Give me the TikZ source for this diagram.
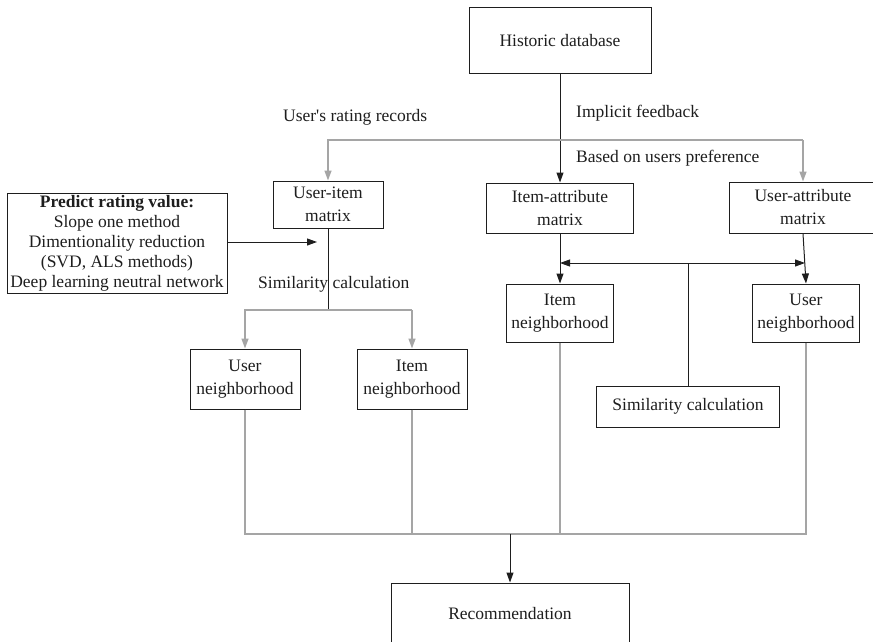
\documentclass[tikz,border=0pt]{standalone}
\usepackage{fontspec}
\setmainfont{Liberation Serif}
\usetikzlibrary{arrows.meta, positioning, calc}
\definecolor{linegray}{RGB}{165,165,165}
\definecolor{inkdark}{RGB}{30,30,30}

\tikzset{
  box/.style={draw=inkdark, line width=1pt, align=center, inner sep=2pt,
    font=\fontsize{17.5}{23}\selectfont, text=inkdark},
  lbl/.style={font=\fontsize{17.5}{21}\selectfont, text=inkdark, inner sep=0pt, anchor=west},
  blk/.style={draw=inkdark, line width=1pt},
  gry/.style={draw=linegray, line width=1.5pt},
  tip/.style={-{Triangle[length=10pt,width=7pt]}},
}

\begin{document}
\begin{tikzpicture}[x=1pt, y=-1pt]
    \useasboundingbox (0,0) rectangle (873,642);

    % Boxes
    \node[box, minimum width=182pt, minimum height=66pt] (db) at (560,41) {Historic database};
    \node[box, minimum width=110pt, minimum height=47pt] (uim) at (328,204.5) {User-item\\matrix};
    \node[box, minimum width=147pt, minimum height=50pt] (iam) at (560,208) {Item-attribute\\matrix};
    \node[box, minimum width=148pt, minimum height=51pt] (uam) at (803,207.5) {User-attribute\\matrix};
    \node[box, minimum width=220pt, minimum height=100pt, font=\fontsize{17.5}{20}\selectfont] (pred) at (117,243)
        {\textbf{Predict rating value:}\\Slope one method\\Dimentionality reduction\\(SVD, ALS methods)\\Deep learning neutral network};
    \node[box, minimum width=110pt, minimum height=60pt] (un1) at (245,379) {User\\neighborhood};
    \node[box, minimum width=110pt, minimum height=60pt] (in1) at (412,379) {Item\\neighborhood};
    \node[box, minimum width=107pt, minimum height=58pt] (in2) at (560,313) {Item\\neighborhood};
    \node[box, minimum width=107pt, minimum height=58pt] (un2) at (806,313) {User\\neighborhood};
    \node[box, minimum width=183pt, minimum height=41pt] (sim) at (688,406.5) {Similarity calculation};
    \node[box, minimum width=238pt, minimum height=62pt] (rec) at (510,614) {Recommendation};

    % Labels
    \node[lbl] (lrec) at (283,117) {User\textquotesingle s rating records};
    \node[lbl] (limp) at (576,113) {Implicit feedback};
    \node[lbl] (lpref) at (576,158) {Based on users preference};

    % Historic database to the matrices
    \draw[blk, tip] (db.south) -- (iam.north);
    \coordinate (gl) at (328,140);
    \coordinate (gr) at (803,140);
    \draw[gry, tip] (gr) -- (uam.north);
    \draw[gry, tip] (gr) -- (gl) -- (uim.north);

    % Predict box into user-item branch
    \coordinate (pv) at (317,242);
    \draw[blk, tip] (pred.east |- pv) -- (pv);

    % User-item matrix to neighborhoods
    \coordinate (sl) at (245,310);
    \coordinate (sr) at (412,310);
    \draw[blk] (uim.south) -- (uim.south |- sl);
    \node[lbl] (lsim) at (258,284) {Similarity calculation};
    \draw[gry, tip] (sr) -- (sl) -- (un1.north);
    \draw[gry, tip] (sr) -- (in1.north);

    % Attribute matrices to neighborhoods
    \coordinate (ai) at (560,263);
    \coordinate (au) at (805,263);
    \coordinate (am) at (688,263);
    \draw[blk, tip] (iam.south) -- (in2.north);
    \draw[blk, tip] (uam.south) -- (un2.north);
    \draw[blk, {Triangle[length=10pt,width=7pt]}-{Triangle[length=10pt,width=7pt]}] (ai) -- (au);
    \draw[blk] (am) -- (sim.north);

    % Neighborhoods to recommendation
    \coordinate (bl) at (245,534);
    \coordinate (br) at (806,534);
    \draw[gry] (un1.south) -- (bl) -- (br) -- (un2.south);
    \draw[gry] (in1.south) -- (in1.south |- bl);
    \draw[gry] (in2.south) -- (in2.south |- bl);
    \draw[blk, tip] (rec.north |- bl) -- (rec.north);
\end{tikzpicture}
\end{document}
